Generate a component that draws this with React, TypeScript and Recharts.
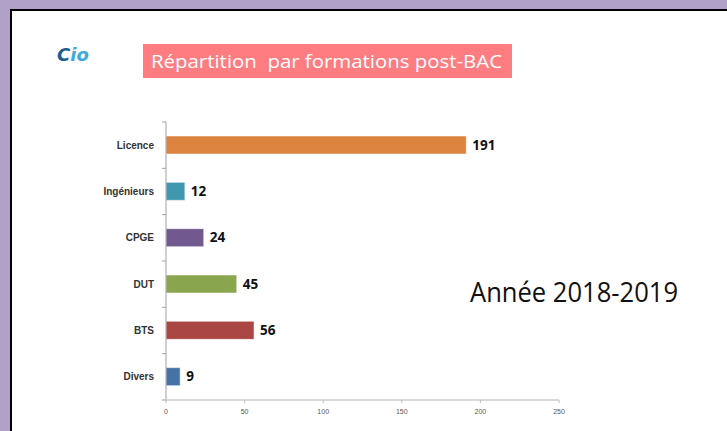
import React from 'react';
import { BarChart, Bar, XAxis, YAxis, Cell, LabelList } from 'recharts';

const categories = ['Licence', 'Ingénieurs', 'CPGE', 'DUT', 'BTS', 'Divers'];
const values = [191, 12, 24, 45, 56, 9];
const colors = ['#dc843f', '#4098b0', '#71588f', '#89a54e', '#aa4643', '#4572a7'];
const xTicks = [0, 50, 100, 150, 200, 250];
const title = 'Répartition  par formations post-BAC';
const yearLabel = 'Année 2018-2019';

const data = categories.map((name, i) => ({ name, value: values[i] }));

const TICK_MARGIN = 12;
const TICK_LEN = 4;

function CategoryTick(props: any) {
  const { x, y, payload, index } = props;
  const half = payload && typeof payload.offset === 'number' ? payload.offset : 0;
  const axisX = x + TICK_MARGIN;
  const isLast = index === categories.length - 1;
  return (
    <g>
      {half > 0 && (
        <line x1={axisX - TICK_LEN} x2={axisX} y1={y - half} y2={y - half} stroke="#a0a0a0" />
      )}
      {half > 0 && isLast && (
        <line x1={axisX - TICK_LEN} x2={axisX} y1={y + half} y2={y + half} stroke="#a0a0a0" />
      )}
      <text
        x={x}
        y={y}
        dy="0.355em"
        textAnchor="end"
        fontSize={10}
        fontWeight={700}
        fill="#333"
        fontFamily="Liberation Sans, Arial, sans-serif"
      >
        {payload.value}
      </text>
    </g>
  );
}

export default function App() {
  return (
    <div style={{ position: 'fixed', left: 0, top: 0, width: 727, height: 431, background: '#b1a0c8', overflow: 'hidden' }}>
      <div style={{ position: 'absolute', left: 10, top: 9, width: 727, height: 431, background: '#fff', borderLeft: '2px solid #000', borderTop: '2px solid #000' }} />
      <div style={{ position: 'absolute', left: 0, top: 0 }}>
        <BarChart
          width={727}
          height={431}
          data={data}
          layout="vertical"
          margin={{ top: 122, right: 168, bottom: 11, left: 0 }}
          barSize={18}
        >
          <YAxis
            type="category"
            dataKey="name"
            width={166}
            axisLine={{ stroke: '#a0a0a0' }}
            tickLine={false}
            tickSize={0}
            tickMargin={TICK_MARGIN}
            interval={0}
            tick={<CategoryTick />}
          />
          <XAxis
            type="number"
            domain={[0, 250]}
            ticks={xTicks}
            interval={0}
            height={20}
            axisLine={{ stroke: '#d9d9d9', strokeWidth: 2 }}
            tickLine={{ stroke: '#bfbfbf' }}
            tickSize={3}
            tickMargin={6}
            tick={{ fontSize: 7, fill: '#595959', fontFamily: 'Liberation Sans, Arial, sans-serif' }}
          />
          <Bar dataKey="value" isAnimationActive={false} stroke="#ffffff" strokeOpacity={0.5}>
            {data.map((d, i) => (
              <Cell key={d.name} fill={colors[i]} />
            ))}
            <LabelList
              dataKey="value"
              position="right"
              offset={6}
              fill="#111"
              fontSize={13.5}
              fontWeight={700}
              fontFamily="Open Sans, sans-serif"
            />
          </Bar>
        </BarChart>
      </div>
      <svg width={727} height={431} style={{ position: 'absolute', left: 0, top: 0, pointerEvents: 'none' }}>
        <rect x={143} y={44} width={369} height={34} fill="#ff7c80" />
        <text
          x={151}
          y={68}
          fill="#ffffff"
          fontFamily="Open Sans, sans-serif"
          fontSize={19}
          textLength={351}
          lengthAdjust="spacingAndGlyphs"
          style={{ whiteSpace: 'pre' }}
        >
          {title}
        </text>
        <text
          x={470}
          y={302}
          fill="#111"
          fontFamily="Open Sans, sans-serif"
          fontSize={27}
          textLength={208}
          lengthAdjust="spacingAndGlyphs"
        >
          {yearLabel}
        </text>
        <text x={57} y={61} fontFamily="DejaVu Sans, sans-serif" fontSize={18} fontWeight={700} fontStyle="italic">
          <tspan fill="#1b5f8f">C</tspan>
          <tspan fill="#40a8dc">io</tspan>
        </text>
      </svg>
    </div>
  );
}
